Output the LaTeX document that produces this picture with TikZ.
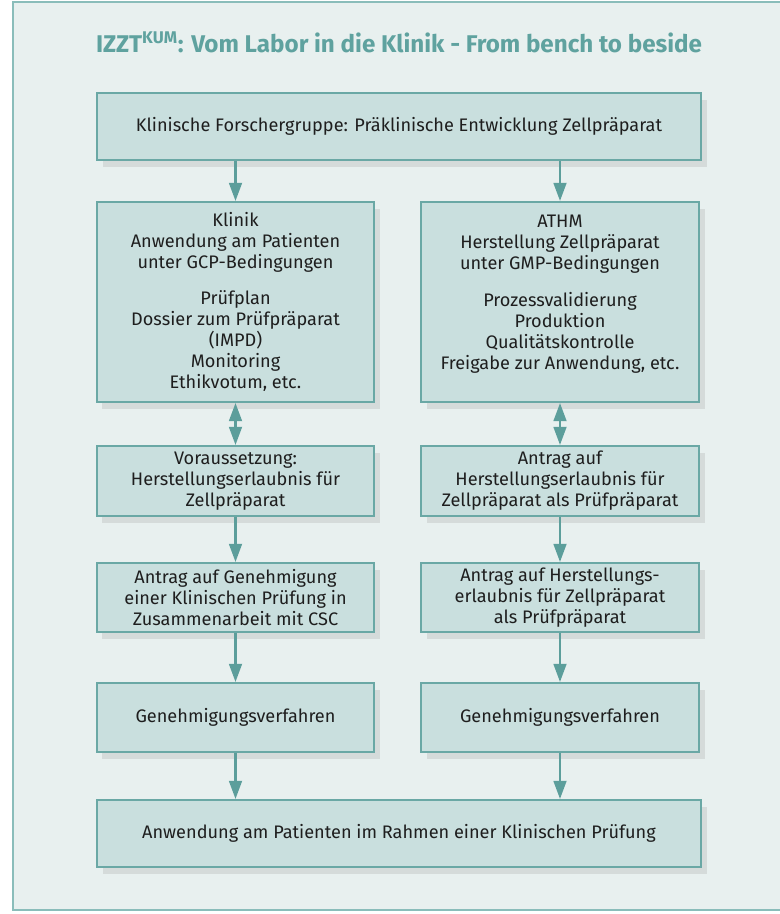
\documentclass[tikz,border=0pt]{standalone}
\usepackage{fontspec}
\setmainfont{Fira Sans}
\usepackage{xcolor}
\usetikzlibrary{arrows.meta,shadows}

\definecolor{pagebg}{HTML}{E8F0EF}
\definecolor{frameline}{HTML}{8ABDBA}
\definecolor{boxfill}{HTML}{C9DFDE}
\definecolor{boxline}{HTML}{6AA8A5}
\definecolor{arrowcol}{HTML}{5C9E9B}
\definecolor{titlecol}{HTML}{5FA29F}
\definecolor{textcol}{HTML}{1E1E1E}

\tikzset{
	box/.style={draw=boxline, fill=boxfill, line width=1.3pt, align=center,
		text=textcol, font=\fontsize{12.9}{14.9}\selectfont, inner sep=0pt,
		drop shadow={opacity=0.18, shadow xshift=4pt, shadow yshift=-5pt}},
	arr/.style={draw=arrowcol, line width=2pt, -{Triangle[width=9pt,length=13pt]}},
	dblarr/.style={draw=arrowcol, line width=2pt, {Triangle[width=9pt,length=13pt]}-{Triangle[width=9pt,length=13pt]}}
}

\begin{document}
\begin{tikzpicture}[x=0.025cm, y=-0.025cm]
	\useasboundingbox (0,0) rectangle (780,914);
	\clip (0,0) rectangle (780,914);
	\draw[frameline, fill=pagebg, line width=1.5pt] (13,2) rectangle (800,910);

	\node[text=titlecol, font=\fontsize{17.2}{20}\selectfont\bfseries] (title) at (399,42)
		{IZZT\textsuperscript{KUM}: Vom Labor in die Klinik - From bench to beside};

	% Kopf und Fuss
	\node[box, minimum width=15.1cm, minimum height=1.675cm] (top) at (399,126.5)
		{Klinische Forschergruppe: Präklinische Entwicklung Zellpräparat};
	\node[box, minimum width=15.1cm, minimum height=1.675cm] (final) at (399,833.5)
		{Anwendung am Patienten im Rahmen einer Klinischen Prüfung};

	% linke Spalte
	\node[box, minimum width=6.93cm, minimum height=5cm] (klinik) at (235.5,302)
		{Klinik\\Anwendung am Patienten\\unter GCP-Bedingungen\\[11pt]Prüfplan\\Dossier zum Prüfpräparat\\(IMPD)\\Monitoring\\Ethikvotum, etc.};
	\node[box, minimum width=6.93cm, minimum height=1.75cm] (vorauss) at (235.5,481)
		{Voraussetzung:\\Herstellungserlaubnis für\\Zellpräparat};
	\node[box, minimum width=6.93cm, minimum height=1.725cm] (genantrag) at (235.5,597.5)
		{Antrag auf Genehmigung\\einer Klinischen Prüfung in\\Zusammenarbeit mit CSC};
	\node[box, minimum width=6.93cm, minimum height=1.725cm] (genverfL) at (235.5,717.5)
		{Genehmigungsverfahren};

	% rechte Spalte
	\node[box, minimum width=6.95cm, minimum height=5cm] (athm) at (560,302)
		{ATHM\\Herstellung Zellpräparat\\unter GMP-Bedingungen\\[11pt]Prozessvalidierung\\Produktion\\Qualitätskontrolle\\Freigabe zur Anwendung, etc.\\[-1pt]\mbox{}};
	\node[box, minimum width=6.95cm, minimum height=1.75cm] (antragR) at (560,481)
		{Antrag auf\\Herstellungserlaubnis für\\Zellpräparat als Prüfpräparat};
	\node[box, minimum width=6.95cm, minimum height=1.725cm] (herstantrag) at (560,597.5)
		{Antrag auf Herstellungs-\\erlaubnis für Zellpräparat\\als Prüfpräparat};
	\node[box, minimum width=6.95cm, minimum height=1.725cm] (genverfR) at (560,717.5)
		{Genehmigungsverfahren};

	\draw[arr] (top.south -| klinik.north) -- (klinik.north);
	\draw[arr] (top.south -| athm.north) -- (athm.north);
	\draw[dblarr] (klinik.south) -- (vorauss.north);
	\draw[dblarr] (athm.south) -- (antragR.north);
	\draw[arr] (vorauss.south) -- (genantrag.north);
	\draw[arr] (antragR.south) -- (herstantrag.north);
	\draw[arr] (genantrag.south) -- (genverfL.north);
	\draw[arr] (herstantrag.south) -- (genverfR.north);
	\draw[arr] (genverfL.south) -- (final.north -| genverfL.south);
	\draw[arr] (genverfR.south) -- (final.north -| genverfR.south);
\end{tikzpicture}
\end{document}
